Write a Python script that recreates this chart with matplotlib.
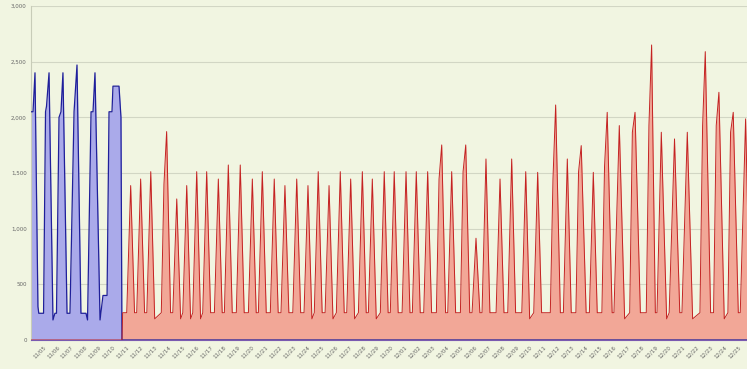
import numpy as np
import matplotlib.pyplot as plt
import matplotlib.ticker as mticker
import pandas as pd

# blue series: explicit vertices (time in days, value)
blue_t = [-0.85, -0.71, -0.57, -0.36, -0.30, -0.14, 0.04, 0.18, 0.25, 0.43,
          0.71, 0.85, 0.96, 1.14, 1.28, 1.42, 1.71, 1.92, 2.21, 2.42,
          2.70, 3.06, 3.17, 3.42, 3.56, 3.70, 4.06, 4.27, 4.56, 4.70,
          4.91, 4.98, 5.41, 5.55, 5.62, 50.2]
blue_v = [2050, 2050, 2400, 300, 240, 240, 240, 2050, 2100, 2400,
          180, 240, 240, 2000, 2050, 2400, 240, 240, 2050, 2470,
          240, 240, 180, 2050, 2050, 2400, 180, 400, 400, 2050,
          2050, 2280, 2280, 2000, 0, 0]

# red series: one peak per cycle
red_start = 5.62
red_peak_t = [6.24, 6.95, 7.67, 8.80, 9.52, 10.23, 10.94, 11.65, 12.48, 13.19,
              14.04, 14.90, 15.61, 16.46, 17.22, 18.06, 18.86, 19.59, 20.36, 21.16,
              21.90, 22.73, 23.44, 24.29, 25.00, 25.84, 26.57, 27.38, 28.38, 29.09,
              30.09, 30.82, 31.53, 32.53, 33.36, 34.36, 35.21, 36.49, 37.32, 38.31,
              39.17, 40.16, 41.02, 42.14, 43.32, 44.01, 44.95, 45.86, 47.14, 48.11,
              49.13, 50.01]
red_peak_v = [1387, 1446, 1512, 1872, 1267, 1387, 1512, 1512, 1446, 1572,
              1572, 1446, 1512, 1446, 1387, 1446, 1387, 1512, 1387, 1512,
              1446, 1512, 1446, 1512, 1512, 1512, 1512, 1512, 1752, 1512,
              1752, 914, 1626, 1446, 1626, 1512, 1506, 2111, 1626, 1746,
              1506, 2045, 1926, 2045, 2650, 1866, 1806, 1866, 2590, 2225,
              2045, 1986]
red_shoulder_v = [0, 0, 0, 1400, 0, 0, 0, 0, 0, 0,
                  0, 0, 0, 0, 0, 0, 0, 0, 0, 0,
                  0, 0, 0, 0, 0, 0, 0, 0, 1446, 0,
                  1512, 0, 0, 0, 0, 0, 0, 1446, 0, 1510,
                  0, 1560, 0, 1866, 1926, 0, 0, 0, 1926, 1926,
                  1866, 0]
red_trough_v = [245, 245, 190, 245, 190, 190, 190, 245, 245, 245,
                245, 245, 245, 245, 245, 245, 190, 245, 190, 245,
                190, 245, 190, 245, 245, 245, 245, 245, 245, 245,
                245, 245, 245, 245, 245, 190, 245, 245, 245, 245,
                245, 245, 190, 245, 245, 190, 245, 190, 245, 190,
                245, 245]

tick_labels = [f"{d:%m/%d}" for d in pd.date_range("2012-11-05", periods=51, freq="D")]

BG = '#f1f5e1'

# build red vertices
red_t = [-0.9, red_start, red_start + 0.05]
red_v = [0, 0, 245]
prev_end = red_start + 0.05
for i, (t, pk, sh, tr) in enumerate(zip(red_peak_t, red_peak_v, red_shoulder_v, red_trough_v)):
    w = 0.28 if pk < 1700 else 0.38
    gap_r = (red_peak_t[i + 1] - t) / 2 if i + 1 < len(red_peak_t) else w
    left = max(t - w, prev_end + 0.12)
    right = t + min(w, gap_r - 0.08)
    red_t.append(left)
    red_v.append(245)
    if sh:
        red_t.append(t - 0.5 * (t - left))
        red_v.append(sh)
    red_t.append(t)
    red_v.append(pk)
    red_t.append(right)
    red_v.append(tr)
    prev_end = right
red_t.append(50.3)
red_v.append(245)

fig = plt.figure(figsize=(7.47, 3.69), dpi=100, facecolor=BG)
ax = fig.add_axes([31 / 747, 29 / 369, 1 - 31 / 747, 334 / 369])
ax.set_facecolor(BG)

ax.fill_between(blue_t, blue_v, color='#aaaaea', lw=0, zorder=2)
ax.plot(blue_t, blue_v, color='#1f1f9a', lw=0.9, zorder=4)
ax.fill_between(red_t, red_v, color='#f2a797', lw=0, zorder=3)
ax.plot(red_t, red_v, color='#c42222', lw=0.7, zorder=5)

ax.set_xlim(-0.854, 50.11)
ax.set_ylim(0, 3000)
ax.set_yticks(np.arange(0, 3001, 500))
ax.yaxis.set_major_formatter(mticker.FuncFormatter(lambda v, p: f"{int(v):,}"))
ax.set_xticks(np.arange(len(tick_labels)) * 0.99)
ax.set_xticklabels(tick_labels, rotation=45, ha='right', rotation_mode='anchor')
ax.tick_params(axis='both', length=0, labelsize=4, colors='#666666', pad=3)
ax.grid(axis='y', color='#d2d6c4', lw=0.8, zorder=1)
for s in ['top', 'right']:
    ax.spines[s].set_visible(False)
ax.spines['left'].set_color('#c8ccb8')
ax.spines['bottom'].set_color('#7a5ab0')
ax.spines['bottom'].set_zorder(6)

fig.savefig('out.png', dpi=100, facecolor=BG)
